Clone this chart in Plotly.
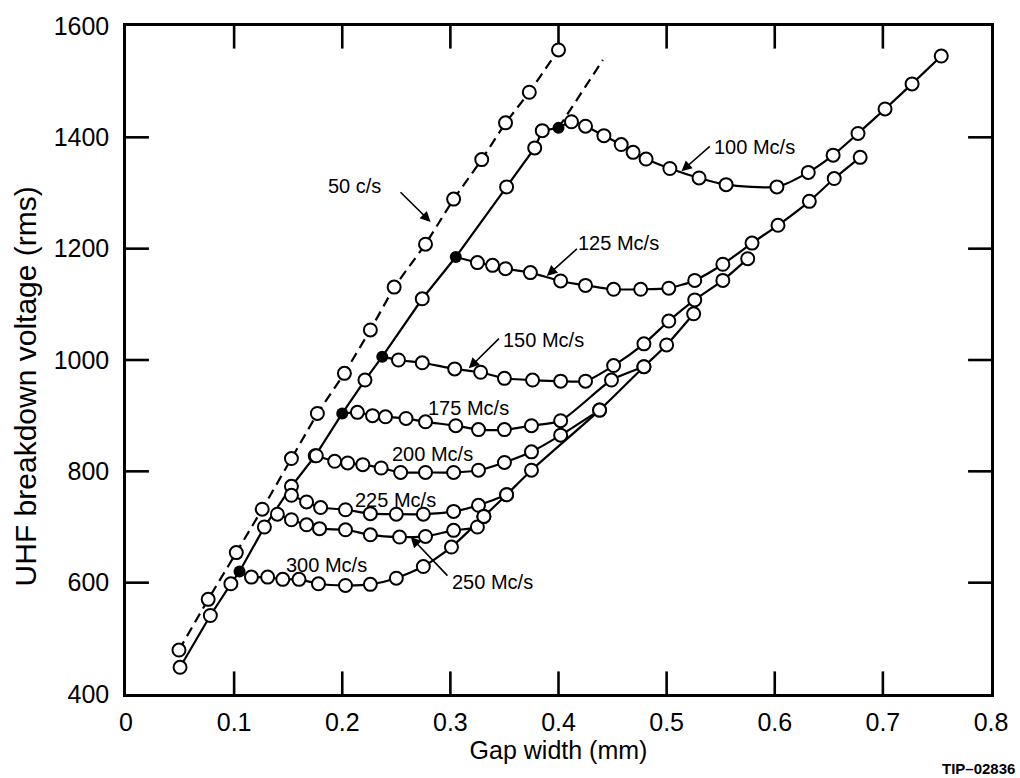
import plotly.graph_objects as go

# ---------------- data ----------------
c50_x = [0.049, 0.076, 0.102, 0.126, 0.153, 0.177, 0.202, 0.226, 0.248, 0.277, 0.303, 0.329, 0.351, 0.373, 0.400]
c50_y = [479, 570, 654, 732, 823, 904, 976, 1054, 1131, 1208, 1289, 1360, 1426, 1481, 1557]

main_x = [0.050, 0.078, 0.097, 0.105, 0.128, 0.153, 0.175, 0.200, 0.221, 0.237, 0.274, 0.305, 0.352, 0.378, 0.385, 0.400]
main_y = [448, 541, 598, 620, 700, 773, 828, 904, 964, 1006, 1110, 1185, 1311, 1381, 1412, 1417]

ext_x = [0.400, 0.441]
ext_y = [1417, 1539]

onset_x = [0.105, 0.200, 0.237, 0.305, 0.400]
onset_y = [620, 904, 1006, 1185, 1417]

m100_x = [0.400, 0.412, 0.425, 0.442, 0.458, 0.469, 0.481, 0.503, 0.530, 0.555, 0.602, 0.631, 0.654, 0.677, 0.702, 0.727, 0.754]
m100_y = [1417, 1428, 1420, 1403, 1387, 1373, 1361, 1344, 1327, 1315, 1311, 1337, 1368, 1407, 1451, 1496, 1546]

m125_x = [0.305, 0.325, 0.339, 0.351, 0.374, 0.402, 0.425, 0.451, 0.476, 0.502, 0.526, 0.552, 0.579, 0.603, 0.632, 0.655, 0.679]
m125_y = [1185, 1175, 1170, 1164, 1157, 1142, 1134, 1127, 1127, 1129, 1143, 1172, 1210, 1242, 1285, 1326, 1364]

m150_x = [0.237, 0.252, 0.274, 0.304, 0.328, 0.350, 0.376, 0.402, 0.425, 0.451, 0.479, 0.502, 0.526, 0.552, 0.575]
m150_y = [1006, 1000, 995, 984, 978, 967, 964, 962, 962, 990, 1029, 1070, 1108, 1143, 1182]

m175_x = [0.200, 0.214, 0.228, 0.240, 0.259, 0.277, 0.305, 0.326, 0.350, 0.375, 0.402, 0.449, 0.479]
m175_y = [904, 906, 900, 898, 895, 889, 882, 875, 875, 882, 891, 964, 988]

m200_x = [0.176, 0.193, 0.205, 0.219, 0.236, 0.254, 0.277, 0.303, 0.326, 0.350, 0.375, 0.402, 0.438]
m200_y = [828, 818, 815, 812, 806, 798, 798, 798, 802, 816, 835, 865, 910]

m225_x = [0.153, 0.167, 0.180, 0.203, 0.226, 0.250, 0.275, 0.303, 0.326, 0.352]
m225_y = [757, 745, 735, 731, 724, 723, 723, 728, 739, 758]

m250_x = [0.140, 0.153, 0.167, 0.179, 0.203, 0.226, 0.253, 0.277, 0.303, 0.325, 0.331]
m250_y = [723, 713, 704, 697, 695, 686, 682, 683, 694, 700, 719]

m300_x = [0.105, 0.116, 0.131, 0.145, 0.160, 0.178, 0.203, 0.226, 0.250, 0.275, 0.301, 0.331, 0.352, 0.375, 0.438, 0.479, 0.500, 0.525]
m300_y = [620, 610, 610, 606, 606, 598, 595, 597, 608, 629, 664, 719, 758, 802, 910, 988, 1027, 1083]

x_ticks = [0, 0.1, 0.2, 0.3, 0.4, 0.5, 0.6, 0.7, 0.8]
x_ticklabels = ["0", "0.1", "0.2", "0.3", "0.4", "0.5", "0.6", "0.7", "0.8"]
y_ticks = [400, 600, 800, 1000, 1200, 1400, 1600]
X_RANGE = [0, 0.8]
Y_RANGE = [400, 1600]

# ---------------- figure ----------------
FONT = "Liberation Sans, Arial, Helvetica, sans-serif"
LW = 2.2
W, H = 1020, 778
MARGIN = dict(l=126, r=26, t=14, b=84)
fig = go.Figure()

# inward tick marks on all four sides, built from the tick values
TICK_PX = 23
plot_w = W - MARGIN["l"] - MARGIN["r"]
plot_h = H - MARGIN["t"] - MARGIN["b"]
dx = TICK_PX * (X_RANGE[1] - X_RANGE[0]) / plot_w
dy = TICK_PX * (Y_RANGE[1] - Y_RANGE[0]) / plot_h
tx, ty = [], []
for tv in x_ticks[1:-1]:
    tx += [tv, tv, None, tv, tv, None]
    ty += [Y_RANGE[0], Y_RANGE[0] + dy, None, Y_RANGE[1], Y_RANGE[1] - dy, None]
for tv in y_ticks[1:-1]:
    tx += [X_RANGE[0], X_RANGE[0] + dx, None, X_RANGE[1], X_RANGE[1] - dx, None]
    ty += [tv, tv, None, tv, tv, None]
fig.add_trace(go.Scatter(x=tx, y=ty, mode="lines", line=dict(color="black", width=2.6),
                         hoverinfo="skip", cliponaxis=False))

# dashed lines
fig.add_trace(go.Scatter(x=c50_x, y=c50_y, mode="lines",
                         line=dict(color="black", width=LW, dash="10px,6px")))
fig.add_trace(go.Scatter(x=ext_x, y=ext_y, mode="lines",
                         line=dict(color="black", width=LW, dash="10px,6px")))
# solid lines
fig.add_trace(go.Scatter(x=main_x, y=main_y, mode="lines",
                         line=dict(color="black", width=LW)))
branches = [(m100_x, m100_y), (m125_x, m125_y), (m150_x, m150_y), (m175_x, m175_y),
            (m200_x, m200_y), (m225_x, m225_y), (m250_x, m250_y), (m300_x, m300_y)]
for bx, by in branches:
    fig.add_trace(go.Scatter(x=bx, y=by, mode="lines",
                             line=dict(color="black", width=LW, shape="spline", smoothing=0.6)))

# open markers
open_marker = dict(symbol="circle", size=13, color="white", line=dict(color="black", width=2))
onset_set = set(zip(onset_x, onset_y))
mx = [x for x, y in zip(main_x, main_y) if (x, y) not in onset_set]
my = [y for x, y in zip(main_x, main_y) if (x, y) not in onset_set]
fig.add_trace(go.Scatter(x=c50_x, y=c50_y, mode="markers", marker=open_marker))
fig.add_trace(go.Scatter(x=mx, y=my, mode="markers", marker=open_marker))
for bx, by in branches:
    pts = [(x, y) for x, y in zip(bx, by) if (x, y) not in onset_set]
    fig.add_trace(go.Scatter(x=[p[0] for p in pts], y=[p[1] for p in pts],
                             mode="markers", marker=open_marker))
# filled onset markers
fig.add_trace(go.Scatter(x=onset_x, y=onset_y, mode="markers",
                         marker=dict(symbol="circle", size=12, color="black")))

# labels
LABEL_SIZE = 20
labels = [
    ("50 c/s", 0.186, 1312),
    ("100 Mc/s", 0.543, 1383),
    ("125 Mc/s", 0.417, 1210),
    ("150 Mc/s", 0.348, 1036),
    ("175 Mc/s", 0.278, 913),
    ("200 Mc/s", 0.245, 831),
    ("225 Mc/s", 0.211, 749),
    ("300 Mc/s", 0.147, 632),
    ("250 Mc/s", 0.301, 601),
]
annotations = []
for t, x, y in labels:
    annotations.append(dict(text=t, x=x, y=y, xref="x", yref="y", xanchor="left",
                            yanchor="middle", showarrow=False,
                            font=dict(family=FONT, size=LABEL_SIZE, color="black"), borderpad=0))
arrows = [
    (0.2525, 1304, 0.2817, 1248),
    (0.5413, 1386, 0.5137, 1339),
    (0.4184, 1202, 0.3892, 1151),
    (0.3463, 1041, 0.3170, 985),
    (0.2986, 610, 0.2633, 682),
]
for ax, ay, x, y in arrows:
    annotations.append(dict(text="", x=x, y=y, ax=ax, ay=ay, xref="x", yref="y",
                            axref="x", ayref="y", showarrow=True, arrowhead=2,
                            arrowsize=1.3, arrowwidth=1.6, arrowcolor="black", standoff=0))
annotations.append(dict(text="<b>TIP–02836</b>", x=1.03, y=-0.112, xref="paper", yref="paper",
                        xanchor="right", yanchor="middle", showarrow=False,
                        font=dict(family=FONT, size=15, color="black")))
# y-axis title
annotations.append(dict(text="UHF breakdown voltage (rms)", x=-0.116, y=0.46, xref="paper",
                        yref="paper", xanchor="center", yanchor="middle", textangle=-90,
                        showarrow=False, font=dict(family=FONT, size=30, color="black")))

axis_common = dict(showline=True, linecolor="black", linewidth=2.5, mirror=True,
                   ticks="", showgrid=False, zeroline=False,
                   tickfont=dict(family=FONT, size=25, color="black"))

fig.update_layout(
    width=W, height=H,
    margin=MARGIN,
    plot_bgcolor="white", paper_bgcolor="white",
    showlegend=False,
    annotations=annotations,
    xaxis=dict(range=X_RANGE, tickvals=x_ticks, ticktext=x_ticklabels,
               title=dict(text="Gap width (mm)", font=dict(family=FONT, size=25, color="black"), standoff=4),
               ticklabelstandoff=4, **axis_common),
    yaxis=dict(range=Y_RANGE, tickvals=y_ticks, ticklabelstandoff=9, **axis_common),
)

fig.write_html("out.html")
